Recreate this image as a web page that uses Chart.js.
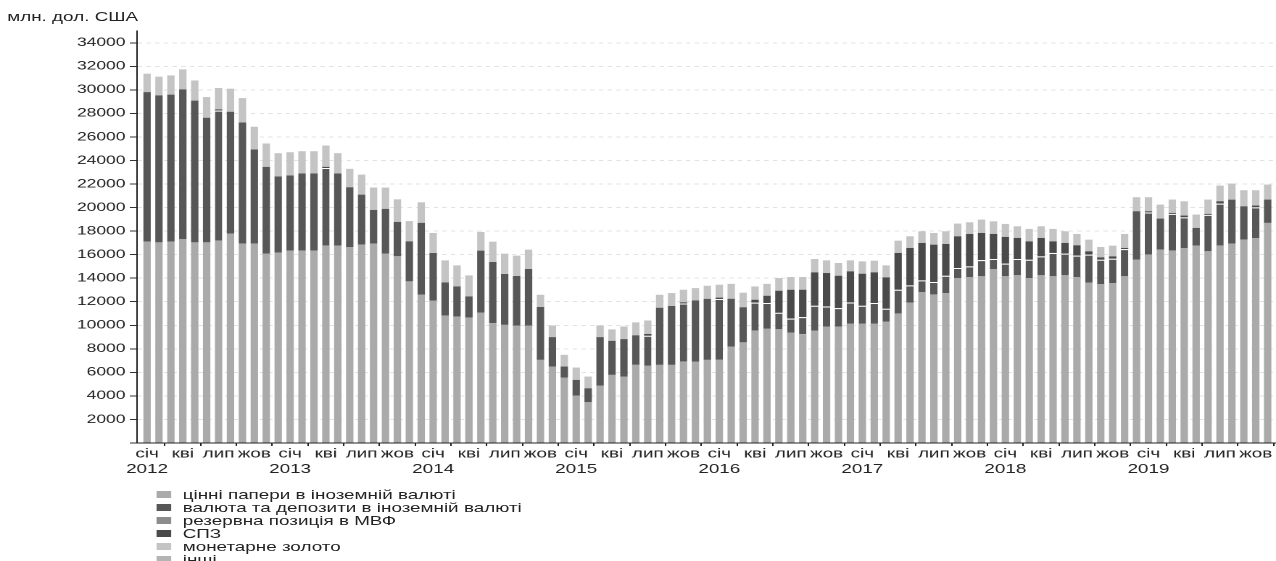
<!DOCTYPE html>
<html lang="uk">
<head>
<meta charset="utf-8">
<title>Міжнародні резерви</title>
<script src="https://cdn.jsdelivr.net/npm/chart.js@4.4.0/dist/chart.umd.min.js"></script>
<style>
  html, body { margin: 0; padding: 0; background: #fff; overflow: hidden; }
  /* the reference is stretched horizontally, so the whole picture is drawn narrow and widened */
  #wrap { position: absolute; left: 0; top: 0; width: 880px; height: 561px;
          transform: scaleX(1.45); transform-origin: 0 0;
          font-family: "Liberation Sans", Arial, sans-serif; color: #222; }
  #unit { position: absolute; left: 5px; top: 9px; font-size: 13px; }
  #chart { position: absolute; left: 0; top: 0; }
  #legend { position: absolute; left: 108px; top: 488px; font-size: 13px; line-height: 13px; }
  .item { display: flex; align-items: center; height: 13px; white-space: nowrap; }
  .box { width: 10px; height: 7px; margin-right: 8px; }
</style>
</head>
<body>
<div id="wrap">
  <div id="unit">млн. дол. США</div>
  <canvas id="chart" width="880" height="480"></canvas>
  <div id="legend"></div>
</div>
<script>
// Місяці та роки по осі X (січ 2012 - лис 2019)
const months = ['січ', 'лют', 'бер', 'кві', 'тра', 'чер', 'лип', 'сер', 'вер', 'жов', 'лис', 'гру'];
const years = [2012, 2013, 2014, 2015, 2016, 2017, 2018, 2019];
const monthCount = 95;

// Підписи осі Y
const yTicks = [0, 2000, 4000, 6000, 8000, 10000, 12000, 14000, 16000, 18000,
                20000, 22000, 24000, 26000, 28000, 30000, 32000, 34000];

// Складові резервів, млн. дол. США
const securities = [
  17105, 17045, 17105, 17330, 17045, 17045, 17190, 17785, 16935, 16935, 16080, 16170,
  16340, 16340, 16340, 16765, 16765, 16650, 16850, 16935, 16080, 15860, 13730, 12595,
  12085, 10835, 10750, 10665, 11090, 10185, 10040, 9980, 9980, 7065, 6495, 5560,
  4030, 3460, 4880, 5785, 5645, 6640, 6555, 6640, 6640, 6900, 6900, 7065,
  7065, 8195, 8550, 9545, 9700, 9650, 9385, 9250, 9560, 9900, 9900, 10125,
  10125, 10125, 10325, 10980, 11940, 12825, 12595, 12740, 14015, 14100, 14150, 14780,
  14150, 14240, 14015, 14240, 14150, 14240, 14100, 13640, 13505, 13590, 14150, 15570,
  16000, 16425, 16340, 16570, 16765, 16280, 16765, 16935, 17275, 17420, 18695
];
const currency = [
  12705, 12485, 12485, 12710, 12035, 10585, 11050, 10355, 10295, 8000, 7380, 6470,
  6380, 6550, 6550, 6595, 6125, 5080, 4250, 2865, 3810, 2920, 3400, 6100,
  4060, 2805, 2550, 1785, 5250, 5195, 4315, 4205, 4800, 4485, 2500, 935,
  1330, 1190, 4115, 2895, 3180, 2510, 2555, 4850, 5000, 4950, 5220, 5175,
  5165, 4060, 2980, 2375, 2190, 1410, 1185, 1445, 2100, 1700, 1560, 1815,
  1535, 1765, 1080, 2040, 1450, 990, 1080, 1470, 850, 905, 1390, 850,
  1085, 1390, 1555, 1615, 1995, 1845, 1815, 2360, 2065, 2065, 2320, 4115,
  3585, 2640, 3125, 2600, 1505, 3100, 3570, 3745, 2835, 2600, 1985
];
const imfPosition = [
  0, 0, 0, 0, 0, 0, 0, 0, 0, 0, 0, 0,
  0, 0, 0, 0, 0, 0, 0, 0, 0, 0, 0, 0,
  0, 0, 0, 0, 0, 0, 0, 0, 0, 0, 0, 0,
  0, 0, 0, 0, 0, 0, 0, 0, 0, 0, 0, 0,
  0, 0, 0, 0, 0, 0, 0, 0, 0, 0, 0, 0,
  0, 0, 0, 0, 0, 0, 0, 0, 0, 0, 0, 0,
  0, 0, 0, 0, 0, 0, 0, 0, 0, 0, 0, 0,
  0, 0, 0, 0, 0, 0, 0, 0, 0, 0, 0
];
const sdr = [
  0, 0, 0, 0, 0, 0, 100, 0, 0, 0, 0, 0,
  0, 0, 0, 100, 0, 0, 0, 0, 0, 0, 0, 0,
  0, 0, 0, 0, 0, 0, 0, 0, 0, 0, 0, 0,
  0, 0, 0, 0, 0, 0, 150, 0, 0, 100, 0, 0,
  120, 0, 0, 250, 620, 1875, 2450, 2325, 2835, 2840, 2750, 2640,
  2720, 2605, 2665, 3125, 3180, 3180, 3175, 2700, 2695, 2755, 2305, 2130,
  2270, 1790, 1560, 1565, 985, 910, 880, 280, 200, 200, 100, 0,
  100, 0, 80, 150, 0, 80, 200, 0, 0, 150, 0
];
const gold = [
  1565, 1590, 1640, 1700, 1720, 1760, 1820, 1960, 2070, 1935, 1985, 1980,
  1980, 1900, 1900, 1810, 1730, 1560, 1700, 1900, 1810, 1920, 1720, 1755,
  1700, 1875, 1790, 1790, 1590, 1725, 1730, 1730, 1645, 1045, 990, 995,
  1050, 995, 990, 970, 1075, 1100, 1150, 1105, 1100, 1070, 1040, 1120,
  1095, 1265, 1240, 1130, 1010, 1080, 1080, 1080, 1135, 1075, 1080, 935,
  1050, 995, 1020, 1045, 990, 990, 995, 1075, 1080, 990, 1135, 1075,
  1105, 990, 1055, 990, 1055, 990, 965, 995, 880, 910, 1190, 1195,
  1195, 1190, 1135, 1215, 1135, 1220, 1335, 1360, 1365, 1305, 1275
];
const other = [
  0, 0, 0, 0, 0, 0, 0, 0, 0, 0, 0, 0,
  0, 0, 0, 0, 0, 0, 0, 0, 0, 0, 0, 0,
  0, 0, 0, 0, 0, 0, 0, 0, 0, 0, 0, 0,
  0, 0, 0, 0, 0, 0, 0, 0, 0, 0, 0, 0,
  0, 0, 0, 0, 0, 0, 0, 0, 0, 0, 0, 0,
  0, 0, 0, 0, 0, 0, 0, 0, 0, 0, 0, 0,
  0, 0, 0, 0, 0, 0, 0, 0, 0, 0, 0, 0,
  0, 0, 0, 0, 0, 0, 0, 0, 0, 0, 0
];

// Категорії: місяць + рік
const categories = [];
years.forEach(y => months.forEach(m => {
    if (categories.length < monthCount) categories.push({ month: m, year: y });
}));

// Точки для лінійної осі X
const toPoints = arr => arr.map((v, i) => ({ x: i, y: v }));

function makeSet(label, values, color, border) {
    return {
        label: label,
        data: toPoints(values),
        backgroundColor: color,
        borderColor: '#ffffff',
        // біла риска між валютою і СПЗ лише там, де СПЗ є
        borderWidth: border
            ? c => (sdr[c.dataIndex] > 0 ? { top: 1, right: 0, bottom: 0, left: 0 } : 0)
            : 0,
        categoryPercentage: 0.62,
        barPercentage: 1
    };
}

const ctx = document.getElementById('chart').getContext('2d');
const reservesChart = new Chart(ctx, {
    type: 'bar',
    data: {
        datasets: [
            makeSet('цінні папери в іноземній валюті', securities, '#aaaaaa', false),
            makeSet('валюта та депозити в іноземній валюті', currency, '#575757', true),
            makeSet('резервна позиція в МВФ', imfPosition, '#8c8c8c', false),
            makeSet('СПЗ', sdr, '#4a4a4a', false),
            makeSet('монетарне золото', gold, '#c4c4c4', false),
            makeSet('інші', other, '#b4b4b4', false)
        ]
    },
    options: {
        responsive: false,
        devicePixelRatio: 2,
        animation: false,
        layout: { padding: { top: 31, right: 0, bottom: 0, left: 0 } },
        plugins: {
            legend: { display: false },
            tooltip: { enabled: false }
        },
        scales: {
            x: {
                type: 'linear',
                stacked: true,
                min: -0.84,
                max: 94.7,
                offset: false,
                afterBuildTicks: scale => {
                    // мітки кожного кварталу
                    scale.ticks = categories
                        .map((c, i) => i)
                        .filter(i => i % 3 === 0)
                        .map(i => ({ value: i }));
                },
                afterFit: scale => { scale.height = 37; },
                grid: { drawOnChartArea: false, drawTicks: true, tickLength: 3, color: '#222' },
                border: { display: true, color: '#222', width: 1 },
                ticks: {
                    autoSkip: false,
                    maxRotation: 0,
                    padding: 0,
                    color: '#222',
                    font: { family: '"Liberation Sans", Arial, sans-serif', size: 13 },
                    callback: value => {
                        const c = categories[value];
                        if (!c) return '';
                        return c.month === 'січ' ? [c.month, String(c.year)] : c.month;
                    }
                }
            },
            y: {
                stacked: true,
                min: 0,
                max: 35000,
                afterBuildTicks: scale => {
                    scale.ticks = yTicks.map(v => ({ value: v }));
                },
                afterFit: scale => { scale.width = 94.5; },
                grid: {
                    color: c => (c.tick && c.tick.value === 0) ? 'rgba(0,0,0,0)' : '#e2e2e2',
                    tickColor: '#333',
                    tickLength: 5,
                    tickBorderDash: []
                },
                border: { display: true, color: '#222', width: 1, dash: [3, 3] },
                ticks: {
                    padding: 3,
                    color: '#222',
                    font: { family: '"Liberation Sans", Arial, sans-serif', size: 12 },
                    callback: v => v === 0 ? '' : String(v)
                }
            }
        }
    }
});

// Легенда стовпчиком під графіком
const legendBox = document.getElementById('legend');
reservesChart.data.datasets.forEach(ds => {
    const row = document.createElement('div');
    row.className = 'item';
    const sw = document.createElement('span');
    sw.className = 'box';
    sw.style.background = ds.backgroundColor;
    const txt = document.createElement('span');
    txt.textContent = ds.label;
    row.appendChild(sw);
    row.appendChild(txt);
    legendBox.appendChild(row);
});
</script>
</body>
</html>
